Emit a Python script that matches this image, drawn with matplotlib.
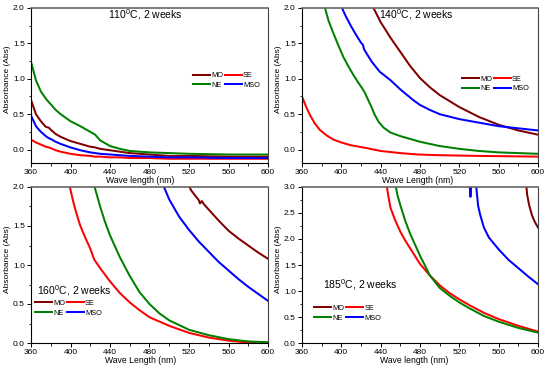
import numpy as np
import matplotlib
matplotlib.use("Agg")
import matplotlib.pyplot as plt
from matplotlib.ticker import MultipleLocator

plt.rcParams['font.family'] = ['Liberation Sans', 'DejaVu Sans']
plt.rcParams['mathtext.fontset'] = 'custom'
plt.rcParams['mathtext.rm'] = 'Liberation Sans'

# ---------------- data ----------------
# Panel 1: 110 C
wl_110 = [360, 365, 370, 375, 378, 380, 385, 390, 400, 410, 420, 425, 430, 440, 450, 460, 480, 500, 520, 560, 600]
ne_110 = [1.24, 0.98, 0.82, 0.72, 0.67, 0.64, 0.56, 0.50, 0.40, 0.33, 0.25, 0.21, 0.13, 0.05, 0.01, -0.02, -0.04, -0.05, -0.06, -0.07, -0.07]
mo_110 = [0.70, 0.50, 0.40, 0.32, 0.31, 0.28, 0.22, 0.18, 0.12, 0.08, 0.04, 0.03, 0.01, -0.01, -0.03, -0.05, -0.07, -0.09, -0.09, -0.10, -0.10]
mso_110 = [0.48, 0.33, 0.25, 0.19, 0.16, 0.15, 0.11, 0.08, 0.03, -0.01, -0.04, -0.05, -0.06, -0.07, -0.08, -0.09, -0.10, -0.11, -0.11, -0.12, -0.12]
se_110 = [0.14, 0.10, 0.07, 0.04, 0.03, 0.02, -0.01, -0.03, -0.06, -0.08, -0.09, -0.10, -0.10, -0.11, -0.11, -0.12, -0.12, -0.13, -0.13, -0.13, -0.13]

# Panel 2: 140 C
wl_ne_140 = [383, 387, 392, 397, 402, 407, 412, 417, 421, 424, 427, 431, 434, 438, 443, 450, 460, 470, 480, 500, 520, 540, 560, 600]
ne_140 = [2.02, 1.82, 1.64, 1.47, 1.31, 1.18, 1.06, 0.95, 0.87, 0.80, 0.71, 0.59, 0.49, 0.39, 0.31, 0.24, 0.19, 0.15, 0.11, 0.05, 0.01, -0.02, -0.04, -0.06]
wl_mso_140 = [400, 405, 410, 415, 420, 422, 423, 426, 431, 439, 450, 460, 473, 480, 490, 500, 520, 540, 560, 580, 600]
mso_140 = [2.02, 1.87, 1.74, 1.62, 1.51, 1.48, 1.42, 1.35, 1.24, 1.10, 0.98, 0.85, 0.70, 0.63, 0.56, 0.50, 0.43, 0.38, 0.33, 0.30, 0.27]
wl_mo_140 = [432, 440, 450, 460, 470, 480, 490, 500, 520, 540, 560, 580, 600]
mo_140 = [2.02, 1.80, 1.58, 1.38, 1.18, 1.01, 0.88, 0.77, 0.60, 0.46, 0.35, 0.27, 0.21]
wl_se_140 = [360, 364, 368, 373, 378, 385, 392, 400, 410, 426, 440, 460, 478, 500, 540, 600]
se_140 = [0.75, 0.61, 0.49, 0.37, 0.28, 0.20, 0.14, 0.10, 0.06, 0.02, -0.02, -0.05, -0.07, -0.08, -0.09, -0.10]

# Panel 3: 160 C
wl_se_160 = [399, 403, 407, 410, 415, 420, 424, 430, 440, 450, 460, 470, 480, 500, 520, 540, 560, 580, 600]
se_160 = [2.02, 1.80, 1.62, 1.50, 1.35, 1.21, 1.07, 0.96, 0.79, 0.64, 0.52, 0.42, 0.33, 0.22, 0.13, 0.07, 0.03, 0.005, -0.01]
wl_ne_160 = [424, 430, 435, 440, 450, 460, 470, 480, 490, 500, 520, 540, 560, 580, 600]
ne_160 = [2.02, 1.75, 1.55, 1.38, 1.10, 0.86, 0.65, 0.50, 0.38, 0.29, 0.17, 0.10, 0.05, 0.02, 0.01]
wl_mso_160 = [494, 500, 510, 520, 526, 530, 540, 550, 560, 570, 580, 590, 600]
mso_160 = [2.02, 1.84, 1.62, 1.45, 1.36, 1.30, 1.17, 1.04, 0.93, 0.82, 0.72, 0.63, 0.54]
wl_mo_160 = [520, 522, 525, 530, 531, 532, 533, 535, 540, 550, 560, 570, 580, 590, 600]
mo_160 = [2.02, 1.96, 1.91, 1.83, 1.79, 1.80, 1.82, 1.78, 1.71, 1.57, 1.44, 1.34, 1.25, 1.16, 1.08]

# Panel 4: 185 C
wl_se_185 = [446, 448, 450, 455, 460, 465, 470, 480, 490, 500, 510, 520, 530, 545, 560, 580, 600]
se_185 = [3.05, 2.80, 2.60, 2.35, 2.14, 1.97, 1.82, 1.52, 1.30, 1.11, 0.96, 0.84, 0.73, 0.58, 0.46, 0.33, 0.22]
wl_ne_185 = [455, 457, 460, 465, 470, 480, 490, 500, 510, 520, 530, 545, 560, 580, 600]
ne_185 = [3.05, 2.85, 2.65, 2.35, 2.10, 1.68, 1.30, 1.06, 0.91, 0.78, 0.67, 0.52, 0.41, 0.29, 0.20]
wl_mso_185 = [530.5, 531.3, 532.2, 532.4, 537, 538, 539, 541, 545, 550, 560, 570, 580, 590, 600]
mso_185 = [3.05, 2.81, 3.05, np.nan, 3.05, 2.85, 2.65, 2.48, 2.22, 2.03, 1.80, 1.60, 1.44, 1.28, 1.13]
wl_mo_185 = [588, 589, 591, 594, 597, 600]
mo_185 = [3.05, 2.85, 2.65, 2.45, 2.32, 2.22]

labels = ["MO", "SE", "NE", "MSO"]
colors = {"MO": "#800000", "SE": "#ff0000", "NE": "#008000", "MSO": "#0000ff"}
titles = ["110$^\\mathregular{0}$C, 2 weeks", "140$^\\mathregular{0}$C, 2 weeks",
          "160$^\\mathregular{0}$C, 2 weeks", "185$^\\mathregular{0}$C, 2 weeks"]
xlabels = ["Wave length (nm)", "Wave Length (nm)", "Wave Length (nm)", "Wave length (nm)"]
xticks = [360, 400, 440, 480, 520, 560, 600]

panels = [
    {"MO": (wl_110, mo_110), "SE": (wl_110, se_110), "NE": (wl_110, ne_110), "MSO": (wl_110, mso_110)},
    {"MO": (wl_mo_140, mo_140), "SE": (wl_se_140, se_140), "NE": (wl_ne_140, ne_140), "MSO": (wl_mso_140, mso_140)},
    {"MO": (wl_mo_160, mo_160), "SE": (wl_se_160, se_160), "NE": (wl_ne_160, ne_160), "MSO": (wl_mso_160, mso_160)},
    {"MO": (wl_mo_185, mo_185), "SE": (wl_se_185, se_185), "NE": (wl_ne_185, ne_185), "MSO": (wl_mso_185, mso_185)},
]
ylims = [(-0.19, 2.0), (-0.19, 2.0), (0.0, 2.0), (0.0, 3.0)]
yticks = [np.arange(0, 2.01, 0.5), np.arange(0, 2.01, 0.5), np.arange(0, 2.01, 0.5), np.arange(0, 3.01, 0.5)]

# layout (figure fractions)
positions = [
    [31/550, 1-163/370, 237/550, 155/370],
    [302/550, 1-163/370, 236/550, 155/370],
    [31/550, 1-343/370, 237/550, 156/370],
    [302/550, 1-343/370, 236/550, 156/370],
]
title_pos = [(0.484, 0.955, 'center'), (0.486, 0.955, 'center'), (0.024, 0.338, 'left'), (0.09, 0.372, 'left')]
legend_pos = [(0.684, 0.587), (0.678, 0.565), (0.017, 0.278), (0.052, 0.245)]
xlabel_x = [0.46, 0.49, 0.464, 0.475]

fig = plt.figure(figsize=(5.5, 3.7), dpi=100)
for i in range(4):
    ax = fig.add_axes(positions[i])
    d = panels[i]
    handles = {}
    for name in ["MO", "SE", "NE", "MSO"]:
        x, y = d[name]
        h, = ax.plot(x, y, color=colors[name], lw=1.45, label=name)
        handles[name] = h
    ax.set_xlim(360, 600)
    ax.set_ylim(*ylims[i])
    ax.set_xticks(xticks)
    ax.set_yticks(yticks[i])
    ax.set_yticklabels([f"{v:.1f}" for v in yticks[i]])
    ax.xaxis.set_minor_locator(MultipleLocator(20))
    ax.yaxis.set_minor_locator(MultipleLocator(0.25))
    ax.tick_params(which='major', direction='out', length=3, width=0.7, labelsize=6, pad=1.5)
    ax.tick_params(which='minor', direction='out', length=1.8, width=0.6)
    ax.tick_params(axis='x', which='both', top=False)
    ax.tick_params(axis='y', which='both', right=False)
    for s in ax.spines.values():
        s.set_linewidth(0.8)
    ax.spines['top'].set_color('#666666')
    ax.spines['right'].set_color('#444444')
    ax.spines['top'].set_linewidth(1.2)
    ax.set_xlabel(xlabels[i], fontsize=6.2, labelpad=-0.5)
    ax.xaxis.label.set_x(xlabel_x[i])
    ax.set_ylabel("Absorbance (Abs)", fontsize=6, labelpad=1.5)
    ax.yaxis.label.set_y(0.54)
    tx, ty, ha = title_pos[i]
    ax.text(tx, ty, titles[i], transform=ax.transAxes, fontsize=7.5, ha=ha, va='center')
    order = ["MO", "NE", "SE", "MSO"]
    ax.legend([handles[n] for n in order], order, ncol=2, frameon=False,
              loc='upper left', bbox_to_anchor=legend_pos[i], fontsize=5.3,
              handlelength=2.3, handletextpad=0.15, columnspacing=0.25,
              labelspacing=0.35, borderpad=0, borderaxespad=0)

fig.savefig("out.png", dpi=100)
